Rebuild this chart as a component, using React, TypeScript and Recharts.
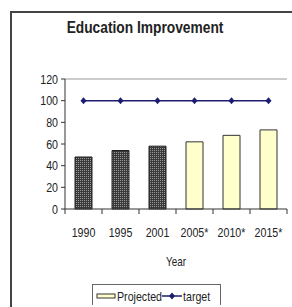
import React from "react";
import { ComposedChart, Bar, Line, XAxis, YAxis, Legend, ReferenceLine } from "recharts";

const years = ["1990", "1995", "2001", "2005*", "2010*", "2015*"];
const actualValues = [48, 54, 58, null, null, null];
const projectedValues = [null, null, null, 62, 68, 73];
const targetValues = [100, 100, 100, 100, 100, 100];
const yTicks = [0, 20, 40, 60, 80, 100, 120];

const data = years.map((year, i) => ({
  year,
  actual: actualValues[i],
  projected: projectedValues[i],
  target: targetValues[i],
}));

const W = 292;
const H = 307;
const FONT = "'Liberation Sans', Arial, sans-serif";
const SQUEEZE = 0.82;
const margin = { top: 79, right: 5, left: 0, bottom: 2 };
const Y_AXIS_W = 65;
const HALF_BAND = (W - margin.left - margin.right - Y_AXIS_W) / years.length / 2;
const NAVY = "#1c1c70";

// narrow text, stands in for Arial Narrow
function NarrowText({ x, y, anchor, size, children }: any) {
  return (
    <g transform={`translate(${x},${y}) scale(${SQUEEZE},1)`}>
      <text x={0} y={0} textAnchor={anchor} fontSize={size} fill="#222" fontFamily={FONT}>
        {children}
      </text>
    </g>
  );
}

function YearTick(props: any) {
  const { x, y, payload, index } = props;
  return (
    <g>
      <line x1={x - HALF_BAND} x2={x - HALF_BAND} y1={y} y2={y + 5} stroke="#333" />
      {index === years.length - 1 && (
        <line x1={x + HALF_BAND} x2={x + HALF_BAND} y1={y} y2={y + 5} stroke="#333" />
      )}
      <NarrowText x={x} y={y + 28} anchor="middle" size={13}>
        {payload.value}
      </NarrowText>
    </g>
  );
}

function ValueTick(props: any) {
  const { x, y, payload } = props;
  return (
    <NarrowText x={x} y={y + 4.5} anchor="end" size={13}>
      {payload.value}
    </NarrowText>
  );
}

function YearLabel(props: any) {
  const { viewBox } = props;
  return (
    <NarrowText x={viewBox.x + viewBox.width / 2} y={viewBox.y + 57} anchor="middle" size={12}>
      Year
    </NarrowText>
  );
}

function Diamond(props: any) {
  const { cx, cy } = props;
  if (cx == null || cy == null) return null;
  return <path d={`M${cx},${cy - 3.5}L${cx + 3},${cy}L${cx},${cy + 3.5}L${cx - 3},${cy}Z`} fill={NAVY} />;
}

function LegendBox() {
  return (
    <svg width={129} height={21} style={{ display: "block" }}>
      <rect x={0.5} y={0.5} width={128} height={22} fill="#fff" stroke="#666" />
      <rect x={5} y={10} width={18} height={4} fill="#ffffcc" stroke="#333" />
      <NarrowText x={25} y={16.5} anchor="start" size={13}>
        Projected
      </NarrowText>
      <line x1={70} x2={90} y1={12} y2={12} stroke={NAVY} strokeWidth={1.5} />
      <path d="M80,8.5L83,12L80,15.5L77,12Z" fill={NAVY} />
      <NarrowText x={91} y={16.5} anchor="start" size={13}>
        target
      </NarrowText>
    </svg>
  );
}

export default function App() {
  return (
    <div style={{ position: "absolute", left: 0, top: 0, width: W, height: H, background: "#fff", overflow: "hidden" }}>
      <div
        style={{
          position: "absolute",
          left: 10,
          top: 11,
          width: W,
          height: H,
          border: "2px solid #444",
          boxSizing: "border-box",
        }}
      />
      <div
        style={{
          position: "absolute",
          left: 45,
          width: 200,
          top: 19,
          textAlign: "center",
          whiteSpace: "nowrap",
          fontFamily: FONT,
          fontWeight: "bold",
          fontSize: 16,
          color: "#222",
          transform: "scaleX(0.86)",
        }}
      >
        Education Improvement
      </div>
      <ComposedChart width={W} height={H} data={data} margin={margin}>
        <defs>
          <pattern id="hatch" width={2} height={2} patternUnits="userSpaceOnUse">
            <rect width={2} height={2} fill="#3a3a3a" />
            <rect width={1} height={1} fill="#9a9a9a" />
          </pattern>
        </defs>
        <YAxis
          width={Y_AXIS_W}
          domain={[0, 120]}
          ticks={yTicks}
          interval={0}
          tickSize={4}
          tickMargin={3}
          axisLine={{ stroke: "#333" }}
          tickLine={{ stroke: "#333" }}
          tick={<ValueTick />}
        />
        <YAxis yAxisId="frame" orientation="right" width={0} tick={false} axisLine={{ stroke: "#999" }} tickLine={false} />
        <ReferenceLine y={120} stroke="#999" />
        <XAxis
          dataKey="year"
          height={75}
          tickSize={0}
          tickMargin={0}
          axisLine={{ stroke: "#333" }}
          tick={<YearTick />}
          interval={0}
          label={<YearLabel />}
        />
        <Legend
          verticalAlign="bottom"
          align="left"
          content={<LegendBox />}
          wrapperStyle={{ left: 92, width: 129, height: 21 }}
        />
        <Bar dataKey="actual" name="Actual" stackId="a" barSize={17} fill="url(#hatch)" stroke="#222" legendType="none" isAnimationActive={false} />
        <Bar dataKey="projected" name="Projected" stackId="a" barSize={17} fill="#ffffcc" stroke="#333" isAnimationActive={false} />
        <Line dataKey="target" name="target" stroke={NAVY} strokeWidth={1.5} dot={<Diamond />} isAnimationActive={false} />
      </ComposedChart>
    </div>
  );
}
